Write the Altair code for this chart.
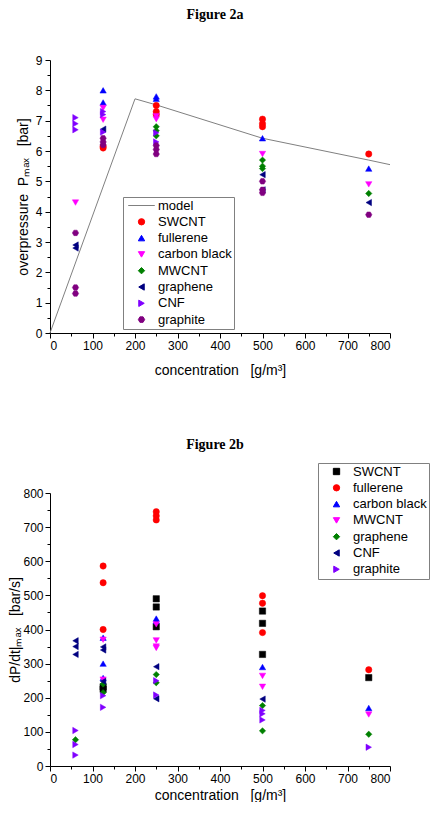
import altair as alt
import pandas as pd

NB = "\u00a0"

# ---------------- Figure 2a : overpressure ----------------
a_series = ["model", "SWCNT", "fullerene", "carbon black", "MWCNT", "graphene", "CNF", "graphite"]
a_colors = ["#808080", "#FF0000", "#0000FF", "#FF00FF", "#008000", "#000080", "#8000FF", "#800080"]
HEX = "M-1,0L-0.5,-0.866L0.5,-0.866L1,0L0.5,0.866L-0.5,0.866Z"
LINE = "M-4.2,0L4.2,0"
a_shapes = [LINE, "circle", "triangle-up", "triangle-down", "diamond", "triangle-left", "triangle-right", HEX]

a_swcnt_x = [125, 125, 250, 250, 250, 500, 500, 500, 750]
a_swcnt_y = [6.1, 6.15, 7.5, 7.3, 7.2, 7.05, 6.9, 6.8, 5.9]
a_fullerene_x = [125, 125, 250, 250, 500, 750]
a_fullerene_y = [8.0, 7.6, 7.8, 7.72, 6.42, 5.42]
a_cblack_x = [60, 125, 125, 250, 250, 500, 750]
a_cblack_y = [4.3, 7.42, 7.03, 7.15, 7.05, 5.9, 4.9]
a_mwcnt_x = [250, 250, 250, 500, 500, 500, 750]
a_mwcnt_y = [6.8, 6.67, 6.5, 5.7, 5.5, 5.42, 4.6]
a_graphene_x = [60, 60, 125, 500, 500, 750]
a_graphene_y = [2.9, 2.8, 6.72, 5.22, 4.72, 4.3]
a_cnf_x = [60, 60, 60, 125, 125, 125, 250, 250]
a_cnf_y = [7.1, 6.9, 6.7, 7.3, 7.2, 6.62, 6.6, 6.3]
a_graphite_x = [60, 60, 60, 125, 125, 125, 250, 250, 250, 500, 500, 500, 750]
a_graphite_y = [3.3, 1.5, 1.3, 6.42, 6.3, 6.2, 6.18, 6.05, 5.9, 5.0, 4.72, 4.62, 3.9]

model_x = [0, 200, 250, 400, 500, 750, 800]
model_y = [0, 7.72, 7.52, 6.86, 6.42, 5.70, 5.55]

# ---------------- Figure 2b : rate of pressure rise ----------------
b_series = ["SWCNT", "fullerene", "carbon black", "MWCNT", "graphene", "CNF", "graphite"]
b_colors = ["#000000", "#FF0000", "#0000FF", "#FF00FF", "#008000", "#000080", "#8000FF"]
b_shapes = ["square", "circle", "triangle-up", "triangle-down", "diamond", "triangle-left", "triangle-right"]

b_swcnt_x = [125, 125, 250, 250, 250, 500, 500, 500, 750]
b_swcnt_y = [232, 225, 490, 466, 408, 454, 418, 327, 259]
b_fullerene_x = [125, 125, 125, 250, 250, 250, 500, 500, 500, 750]
b_fullerene_y = [586, 537, 400, 745, 733, 721, 499, 477, 391, 282]
b_cblack_x = [125, 125, 125, 250, 250, 500, 750]
b_cblack_y = [376, 300, 258, 432, 425, 290, 170]
b_mwcnt_x = [125, 125, 250, 250, 250, 250, 500, 500, 750]
b_mwcnt_y = [370, 253, 415, 368, 350, 346, 264, 232, 151]
b_graphene_x = [60, 125, 125, 250, 250, 500, 500, 750]
b_graphene_y = [77, 240, 215, 268, 244, 177, 103, 93]
b_cnf_x = [60, 60, 60, 125, 125, 125, 250, 250, 500]
b_cnf_y = [367, 350, 327, 349, 340, 248, 291, 197, 196]
b_graphite_x = [60, 60, 60, 125, 125, 250, 250, 500, 500, 500, 750]
b_graphite_y = [104, 63, 32, 206, 172, 250, 208, 163, 153, 135, 55]


def frame(pairs):
    rows = []
    for name, xs, ys in pairs:
        for x, y in zip(xs, ys):
            rows.append({"series": name, "conc": x, "val": y})
    return pd.DataFrame(rows)


df_a = frame([
    ("SWCNT", a_swcnt_x, a_swcnt_y),
    ("fullerene", a_fullerene_x, a_fullerene_y),
    ("carbon black", a_cblack_x, a_cblack_y),
    ("MWCNT", a_mwcnt_x, a_mwcnt_y),
    ("graphene", a_graphene_x, a_graphene_y),
    ("CNF", a_cnf_x, a_cnf_y),
    ("graphite", a_graphite_x, a_graphite_y),
])
df_b = frame([
    ("SWCNT", b_swcnt_x, b_swcnt_y),
    ("fullerene", b_fullerene_x, b_fullerene_y),
    ("carbon black", b_cblack_x, b_cblack_y),
    ("MWCNT", b_mwcnt_x, b_mwcnt_y),
    ("graphene", b_graphene_x, b_graphene_y),
    ("CNF", b_cnf_x, b_cnf_y),
    ("graphite", b_graphite_x, b_graphite_y),
])
df_model = pd.DataFrame({"conc": model_x, "val": model_y})

x_major = list(range(0, 801, 100))
x_minor = list(range(50, 800, 100))
FONT = "Liberation Sans"
X_TITLE = "concentration" + NB * 3 + "[g/m\u00b3]"


def legend(lx, ly):
    return alt.Legend(
        title=None, orient="none", legendX=lx, legendY=ly,
        strokeColor="#808080", padding=2, rowPadding=2.3,
        labelFont=FONT, labelFontSize=13, labelColor="black",
        symbolSize=40, symbolStrokeWidth=1, symbolOpacity=1,
        symbolOffset=10, labelOffset=10,
    )


def panel(df, series, colors, shapes, ydom, ymaj, ymin, ytitle, ytpad, ylpad,
          xtpad, lx, ly, title, toff, model=None):
    xs = alt.Scale(domain=[0, 800], nice=False, zero=False)
    ys = alt.Scale(domain=ydom, nice=False, zero=False)
    xa = alt.Axis(values=x_major, format="d", title=X_TITLE, titlePadding=xtpad,
                  tickSize=5, labelPadding=2, orient="bottom")
    ya = alt.Axis(values=ymaj, format="d", title=ytitle, titlePadding=ytpad,
                  tickSize=5, labelPadding=ylpad, orient="left")
    xm = alt.Axis(values=x_minor, labels=False, domain=False, tickSize=3,
                  title=None, orient="bottom", grid=False)
    ym = alt.Axis(values=ymin, labels=False, domain=False, tickSize=3,
                  title=None, orient="left", grid=False)
    leg = legend(lx, ly)
    pts = alt.Chart(df).mark_point(filled=True, opacity=1, size=40, strokeWidth=0.5).encode(
        x=alt.X("conc:Q", scale=xs, axis=xa),
        y=alt.Y("val:Q", scale=ys, axis=ya),
        shape=alt.Shape("series:N", scale=alt.Scale(domain=series, range=shapes), legend=leg),
        fill=alt.Fill("series:N", scale=alt.Scale(domain=series, range=colors), legend=leg),
        stroke=alt.Stroke("series:N", scale=alt.Scale(domain=series, range=colors), legend=leg),
    )
    minor = alt.Chart(df).mark_point(opacity=0).encode(
        x=alt.X("conc:Q", scale=xs, axis=xm),
        y=alt.Y("val:Q", scale=ys, axis=ym),
    )
    layers = []
    if model is not None:
        layers.append(alt.Chart(model).mark_line(color="#808080", strokeWidth=1).encode(
            x=alt.X("conc:Q", scale=xs, axis=None),
            y=alt.Y("val:Q", scale=ys, axis=None),
        ))
    layers += [pts, minor]
    return alt.layer(*layers).resolve_axis(x="independent", y="independent").properties(
        width=340, height=273,
        title=alt.TitleParams(title, font="Liberation Serif", fontSize=14, fontWeight="bold",
                              anchor="middle", frame="group", offset=toff, dx=-5, color="black"),
    )


top = panel(df_a, a_series, a_colors, a_shapes, [0, 9], list(range(0, 10)),
            [i + 0.5 for i in range(9)],
            "overpressure" + NB * 2 + "P\u2098\u2090\u2093" + NB * 3 + "[bar]", 5, 3, 12,
            73, 137, "Figure 2a", 32, model=df_model)
bottom = panel(df_b, b_series, b_colors, b_shapes, [0, 800], list(range(0, 801, 100)),
               list(range(50, 800, 100)),
               "dP/dt|\u2098\u2090\u2093" + NB * 3 + "[bar/s]", 0, 2, 4,
               268, -30, "Figure 2b", 11)

chart = alt.vconcat(top, bottom, spacing=160, bounds="flush").resolve_scale(
    x="independent", y="independent", shape="independent", fill="independent", stroke="independent"
).properties(padding=0).configure_view(stroke=None).configure_axis(
    labelFont=FONT, labelFontSize=12, labelColor="black",
    titleFont=FONT, titleFontSize=14, titleFontWeight="normal", titleColor="black",
    domainColor="black", tickColor="black", grid=False,
)

chart.save("out.html", embed_options={"renderer": "svg", "actions": False})
